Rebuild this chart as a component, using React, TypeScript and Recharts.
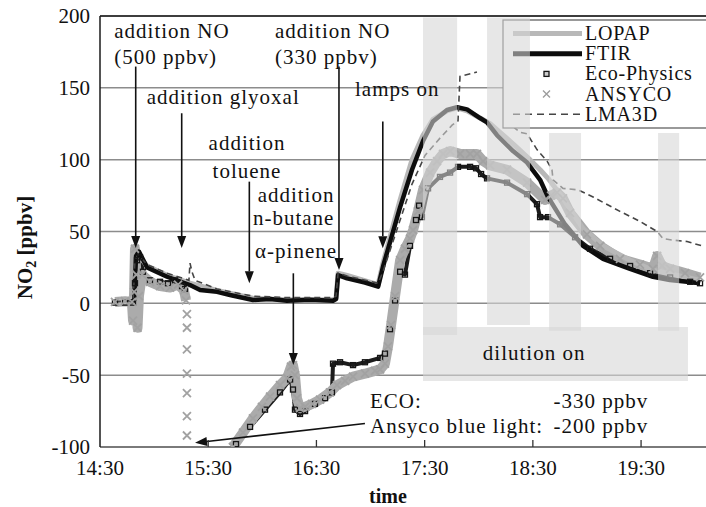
import {
  ComposedChart,
  Line,
  XAxis,
  YAxis,
  CartesianGrid,
  ReferenceArea,
  ReferenceLine,
  ReferenceDot,
} from 'recharts';

type Pt = [number, number | null];

const SERIF = "'Liberation Serif', 'Times New Roman', serif";
const INK = '#111';

// x is minutes after 14:30, y is NO2 in ppbv
const TIME_TICKS = [0, 60, 120, 180, 240, 300];
const TIME_LABELS = ['14:30', '15:30', '16:30', '17:30', '18:30', '19:30'];
const NO2_TICKS = [-100, -50, 0, 50, 100, 150, 200];

const LOPAP: Pt[] = [
  [8.3, 1], [17.2, 1.5], [18.9, 4], [20.0, 30], [21.6, 33], [26.1, 26], [37.2, 19.5],
  [49.9, 14], [64.9, 9], [84.8, 3.5], [103.7, 2.5], [129.2, 2.5], [130.9, 4], [132.0, 21],
  [137.0, 19.5], [154.2, 13], [156.9, 28], [166.4, 72], [173.0, 100], [179.1, 117],
  [184.6, 128], [192.4, 134], [198.0, 136], [203.5, 134], [210.7, 129], [216.3, 125],
  [221.8, 119], [229.0, 111], [238.4, 100], [244.0, 93], [248.4, 87], [255.1, 76],
  [267.8, 52], [278.9, 40], [293.9, 30], [306.6, 23], [325.5, 18], [332.7, 16],
];

const FTIR: Pt[] = [
  [17.2, 1], [18.9, 2], [20.0, 33], [21.6, 36], [26.1, 25], [37.2, 18.5], [49.9, 12.7],
  [55.5, 9.3], [64.9, 8], [72.1, 5.8], [84.8, 2.3], [94.3, 3], [103.7, 1.8], [116.4, 2.5],
  [129.2, 1.8], [130.9, 3], [132.0, 19.7], [137.0, 17.4], [146.9, 14.5], [154.2, 11.6],
  [156.9, 25.5], [166.4, 67], [173.0, 93], [179.1, 113], [184.6, 126.5], [192.4, 134.6],
  [198.0, 136.5], [203.5, 135], [210.7, 129], [214.6, 126], [220.1, 117], [229.0, 106],
  [236.8, 98], [244.0, 86], [248.4, 74], [257.8, 55], [267.8, 40], [278.9, 31], [293.9, 24],
  [306.6, 18.5], [316.0, 16.2], [325.5, 15], [332.7, 14],
];

const ECO_PHYSICS: Pt[] = [
  [8.3, 0.5], [13.9, 0.5], [18.3, 0.5], [19.4, 14], [20.5, 30], [22.2, 32], [23.8, 22],
  [27.7, 16], [33.3, 15], [37.7, 14], [41.6, 16], [45.5, 12], [47.1, 10], [60, null],
  [75.4, -98], [83.2, -86], [91.5, -74], [99.8, -62], [105.4, -53], [107.0, -60],
  [108.1, -74], [110.9, -77], [113.7, -75], [119.2, -70], [124.8, -66], [128.6, -62],
  [129.2, -42], [133.1, -41], [140.3, -43], [146.9, -41], [155.3, -38], [158.0, -35],
  [160.8, -18], [163.6, 2], [166.4, 22], [169.1, 20], [171.9, 40], [175.2, 58], [176.9, 68],
  [178.5, 60], [181.9, 80], [188.5, 88], [194.1, 91], [198.5, 95], [205.2, 95], [208.5, 94],
  [211.3, 90], [214.6, 87], [225.7, 84], [236.8, 76], [242.3, 69], [244.0, 60], [248.4, 60],
  [255.1, 55], [263.4, 46], [271.7, 38], [282.8, 31], [293.9, 26], [305.0, 21], [316.1, 18],
  [327.2, 15], [332.7, 14],
];

const ANSYCO: Pt[] = [
  [8.3, 1], [13.9, 1.5], [17.7, 1], [18.3, -12], [18.9, 8], [19.4, 38], [20.2, 20],
  [20.8, -17], [21.6, 5], [23.3, 20], [27.7, 15], [33.3, 12], [38.8, 11], [43.3, 13],
  [46.6, 9], [47.7, 2], [60, null],
  [73.7, -100], [79.3, -90], [84.8, -80], [89.8, -72], [94.3, -65], [99.8, -57],
  [103.7, -52], [105.9, -44], [107.0, -43], [108.1, -50], [109.2, -66], [110.9, -73],
  [113.7, -72], [117.6, -70], [122.0, -67], [127.5, -62], [131.4, -57], [135.9, -54],
  [140.3, -51], [146.9, -49], [152.5, -47], [155.3, -46], [158.0, -42], [159.7, -30],
  [161.4, -15], [163.6, 5], [166.4, 30], [169.1, 38], [171.9, 45], [173.6, 51], [176.3, 64],
  [179.1, 79], [183.0, 91], [186.9, 99], [190.2, 104], [194.1, 106], [199.6, 104],
  [205.2, 104], [209.0, 104], [212.4, 99], [216.3, 96], [225.7, 93], [236.8, 84],
  [246.8, 72], [250.1, 75], [253.4, 77], [256.7, 73], [260.6, 63], [270.0, 48], [277.3, 40],
  [288.3, 31], [299.4, 27], [306.6, 24], [308.9, 33], [311.6, 26], [316.1, 24], [324.4, 21],
  [332.7, 18],
];

// ANSYCO readings while the blue light was switched
const ANSYCO_BLUE: Pt[] = [
  [48.2, -7.5], [48.2, -17], [48.2, -32], [48.2, -49], [48.2, -62.5], [48.2, -78.5], [48.2, -92],
];

const LMA3D: Pt[] = [
  [8.3, 1], [18.3, 2], [19.4, 30], [21.1, 34], [26.1, 27], [37.2, 21], [49.3, 16], [49.9, 28],
  [51.0, 22], [52.7, 16], [64.9, 10], [84.8, 5], [103.7, 4], [129.2, 4], [130.9, 5],
  [132.0, 21], [137.0, 19], [154.2, 14], [156.9, 22], [166.4, 58], [173.0, 83], [180.2, 103],
  [188.5, 115], [195.2, 124], [198.5, 127], [199.6, 158], [209.0, 161], [219.0, null],
  [229.0, 123], [232.9, 119], [236.8, 118], [242.3, 107], [247.9, 99], [250.6, 93],
  [251.2, 86], [256.7, 80], [265.1, 79], [273.4, 74], [288.3, 64], [299.4, 57], [308.9, 50],
  [312.2, 45], [317.7, 44], [325.5, 43], [333.8, 40],
];

// dilution pulses: start, end, top, bottom
const DILUTION_PULSES: [number, number, number, number][] = [
  [179.1, 198.0, 199, -22],
  [214.6, 238.4, 199, -15],
  [249.0, 266.7, 118.6, -19],
  [309.4, 321.1, 118.6, -19],
];
const DILUTION_SPAN: [number, number, number, number] = [179.1, 326.0, -16.5, -54];

type Note = { text: string; t: number; v: number; anchor: 'start' | 'middle' | 'end' };
const NOTES: Note[] = [
  { text: 'addition NO', t: 7.9, v: 184.5, anchor: 'start' },
  { text: '(500 ppbv)', t: 7.9, v: 166.6, anchor: 'start' },
  { text: 'addition glyoxal', t: 25.9, v: 138.8, anchor: 'start' },
  { text: 'addition', t: 81.5, v: 106.8, anchor: 'middle' },
  { text: 'toluene', t: 81.5, v: 87.5, anchor: 'middle' },
  { text: 'addition', t: 130.0, v: 70.6, anchor: 'end' },
  { text: 'n-butane', t: 130.0, v: 54.5, anchor: 'end' },
  { text: 'α-pinene', t: 86.0, v: 31.3, anchor: 'start' },
  { text: 'addition NO', t: 97.0, v: 184.5, anchor: 'start' },
  { text: '(330 ppbv)', t: 97.0, v: 166.6, anchor: 'start' },
  { text: 'lamps on', t: 141.4, v: 144.5, anchor: 'start' },
  { text: 'dilution on', t: 240.7, v: -39.5, anchor: 'middle' },
  { text: 'ECO:', t: 149.7, v: -73.1, anchor: 'start' },
  { text: '-330 ppbv', t: 251.4, v: -73.1, anchor: 'start' },
  { text: 'Ansyco blue light:', t: 149.7, v: -90.1, anchor: 'start' },
  { text: '-200 ppbv', t: 251.4, v: -90.1, anchor: 'start' },
];

// arrows: from (t, v) to (t, v)
const ARROWS: [number, number, number, number][] = [
  [19.8, 164.8, 19.8, 38.5],
  [45.3, 132.3, 45.3, 38.5],
  [82.8, 84.7, 82.8, 13.9],
  [107.2, 20.9, 107.2, -43],
  [132.5, 164.8, 132.5, 23.2],
  [156.8, 126.5, 156.8, 38.3],
  [146.9, -83.6, 52.7, -97.1],
];

const LEGEND_ROWS = ['LOPAP', 'FTIR', 'Eco-Physics', 'ANSYCO', 'LMA3D'];

const rows = (pts: Pt[]) => pts.map(([t, v]) => ({ t, v }));

const crossPath = (cx: number, cy: number, s: number) =>
  `M${cx - s},${cy - s}L${cx + s},${cy + s}M${cx + s},${cy - s}L${cx - s},${cy + s}`;

const ecoSquare = (p: any) => {
  if (p.cy == null || p.cx == null) return <g key={p.index} />;
  return (
    <rect key={p.index} x={p.cx - 2.5} y={p.cy - 2.5} width={5} height={5}
      fill="none" stroke="#151515" strokeWidth={1.3} />
  );
};

const ansycoCross = (p: any) => {
  if (p.cy == null || p.cx == null) return <g key={p.index} />;
  return <path key={p.index} d={crossPath(p.cx, p.cy, 4)} stroke="#a2a2a2" strokeWidth={1.8} fill="none" />;
};

const renderTimeTick = (p: any) => {
  const { x, y, payload } = p;
  const i = TIME_TICKS.indexOf(payload.value);
  return (
    <g>
      {i > 0 && <line x1={x} x2={x} y1={y} y2={y - 7} stroke="#333" strokeWidth={1.3} />}
      <text x={x} y={y + 28} textAnchor="middle" fontFamily={SERIF} fontSize={21} fill={INK}>
        {TIME_LABELS[i]}
      </text>
    </g>
  );
};

const renderTimeTitle = (p: any) => {
  const vb = p.viewBox;
  return (
    <text x={vb.x + vb.width / 2 - 15} y={vb.y + 56} textAnchor="middle"
      fontFamily={SERIF} fontWeight="bold" fontSize={20} fill={INK}>
      time
    </text>
  );
};

const renderNo2Title = (p: any) => {
  const vb = p.viewBox;
  const cx = vb.x - 8.5;
  const cy = vb.y + vb.height / 2 + 16;
  return (
    <text x={cx} y={cy} transform={`rotate(-90 ${cx} ${cy})`} textAnchor="middle"
      fontFamily={SERIF} fontWeight="bold" fontSize={21} fill={INK}>
      NO<tspan fontSize={14} dy={4}>2</tspan><tspan dy={-4}> [ppbv]</tspan>
    </text>
  );
};

const renderLegend = (p: any) => {
  const bx = p.x + 403;
  const by = p.y + 4;
  return (
    <g>
      <rect x={bx} y={by} width={230} height={108} fill="#fff" stroke="#555" strokeWidth={1.2} />
      {LEGEND_ROWS.map((name, i) => {
        const base = by + 20 + i * 20.2;
        const mid = base - 6.5;
        let symbol;
        if (name === 'LOPAP') {
          symbol = <line x1={bx + 10} x2={bx + 79} y1={mid} y2={mid} stroke="#b8b8b8" strokeWidth={5} />;
        } else if (name === 'FTIR') {
          symbol = <line x1={bx + 10} x2={bx + 79} y1={mid} y2={mid} stroke="#0d0d0d" strokeWidth={5} />;
        } else if (name === 'Eco-Physics') {
          symbol = <rect x={bx + 41} y={mid - 2.5} width={5} height={5} fill="#ccc" stroke="#151515" strokeWidth={1.3} />;
        } else if (name === 'ANSYCO') {
          symbol = <path d={crossPath(bx + 43.5, mid, 3.5)} stroke="#9d9d9d" strokeWidth={1.4} fill="none" />;
        } else {
          symbol = <line x1={bx + 10} x2={bx + 79} y1={mid} y2={mid} stroke="#454545" strokeWidth={1.6} strokeDasharray="7 5" />;
        }
        return (
          <g key={name}>
            {symbol}
            <text x={bx + 82} y={base} fontFamily={SERIF} fontSize={20} letterSpacing={0.8} fill={INK}>
              {name}
            </text>
          </g>
        );
      })}
    </g>
  );
};

const arrowShape = (p: any) => {
  const { x1, y1, x2, y2 } = p;
  const ang = Math.atan2(y2 - y1, x2 - x1);
  const len = 12;
  const half = 4.5;
  const bx = x2 - len * Math.cos(ang);
  const by = y2 - len * Math.sin(ang);
  const px = -Math.sin(ang) * half;
  const py = Math.cos(ang) * half;
  return (
    <g>
      <line x1={x1} y1={y1} x2={bx} y2={by} stroke={INK} strokeWidth={1.6} />
      <polygon points={`${x2},${y2} ${bx + px},${by + py} ${bx - px},${by - py}`} fill={INK} />
    </g>
  );
};

const noteShape = (n: Note) => (p: any) => (
  <text x={p.cx} y={p.cy} textAnchor={n.anchor} fontFamily={SERIF} fontSize={21}
    letterSpacing={1} fill={INK}>
    {n.text}
  </text>
);

export default function App() {
  return (
    <div style={{ position: 'absolute', left: 0, top: 0, background: '#fff' }}>
      <ComposedChart width={706} height={507} margin={{ top: 16, right: 0, bottom: 0, left: 40 }}>
        <CartesianGrid vertical={false} stroke="#8c8c8c" strokeWidth={1.5} />
        <XAxis
          type="number"
          dataKey="t"
          domain={[0, 336]}
          ticks={TIME_TICKS}
          allowDataOverflow
          height={60}
          axisLine={{ stroke: '#7a7a7a', strokeWidth: 2 }}
          tickLine={false}
          tickSize={0}
          tickMargin={0}
          tick={renderTimeTick}
          label={renderTimeTitle}
        />
        <YAxis
          type="number"
          domain={[-100, 200]}
          ticks={NO2_TICKS}
          allowDataOverflow
          width={60}
          axisLine={{ stroke: '#1a1a1a', strokeWidth: 1.5 }}
          tickLine={false}
          tickMargin={4}
          tick={{ fontFamily: SERIF, fontSize: 21, fill: INK }}
          label={renderNo2Title}
        />
        <Line data={rows(ECO_PHYSICS)} dataKey="v" name="Eco-Physics" stroke="#1c1c1c"
          strokeWidth={4} strokeLinejoin="round" dot={ecoSquare} activeDot={false} isAnimationActive={false} />
        <Line data={rows(ANSYCO)} dataKey="v" name="ANSYCO" stroke="#ababab" strokeWidth={10}
          strokeLinejoin="round" dot={ansycoCross} activeDot={false} isAnimationActive={false} />
        <Line data={rows(ANSYCO_BLUE)} dataKey="v" name="ANSYCO blue light" stroke="none"
          dot={ansycoCross} activeDot={false} isAnimationActive={false} />
        <Line data={rows(LOPAP)} dataKey="v" name="LOPAP" stroke="#b8b8b8" strokeWidth={5}
          strokeLinejoin="round" dot={false} activeDot={false} isAnimationActive={false} />
        <Line data={rows(FTIR)} dataKey="v" name="FTIR" stroke="#0d0d0d" strokeWidth={4.5}
          strokeLinejoin="round" dot={false} activeDot={false} isAnimationActive={false} />
        <Line data={rows(LMA3D)} dataKey="v" name="LMA3D" stroke="#454545" strokeWidth={1.6}
          strokeDasharray="6 4" dot={false} activeDot={false} isAnimationActive={false} />

        <ReferenceArea x1={0} x2={336} y1={-100} y2={200} shape={renderLegend}
          ifOverflow="visible" zIndex={1600} />
        <ReferenceLine y={200} stroke="#1a1a1a" strokeWidth={1.6} ifOverflow="visible" zIndex={1650} />

        {DILUTION_PULSES.map(([t0, t1, top, bottom], i) => (
          <ReferenceArea key={`pulse-${i}`} x1={t0} x2={t1} y1={bottom} y2={top}
            fill="#d6d6d6" fillOpacity={0.58} stroke="none" ifOverflow="visible" zIndex={1700} />
        ))}
        <ReferenceArea x1={DILUTION_SPAN[0]} x2={DILUTION_SPAN[1]} y1={DILUTION_SPAN[3]}
          y2={DILUTION_SPAN[2]} fill="#d6d6d6" fillOpacity={0.58} stroke="none"
          ifOverflow="visible" zIndex={1700} />

        {ARROWS.map(([t0, v0, t1, v1], i) => (
          <ReferenceLine key={`arrow-${i}`} segment={[{ x: t0, y: v0 }, { x: t1, y: v1 }]}
            shape={arrowShape} ifOverflow="visible" zIndex={1800} />
        ))}
        {NOTES.map((n, i) => (
          <ReferenceDot key={`note-${i}`} x={n.t} y={n.v} r={0} shape={noteShape(n)}
            ifOverflow="visible" zIndex={1800} />
        ))}
      </ComposedChart>
    </div>
  );
}
